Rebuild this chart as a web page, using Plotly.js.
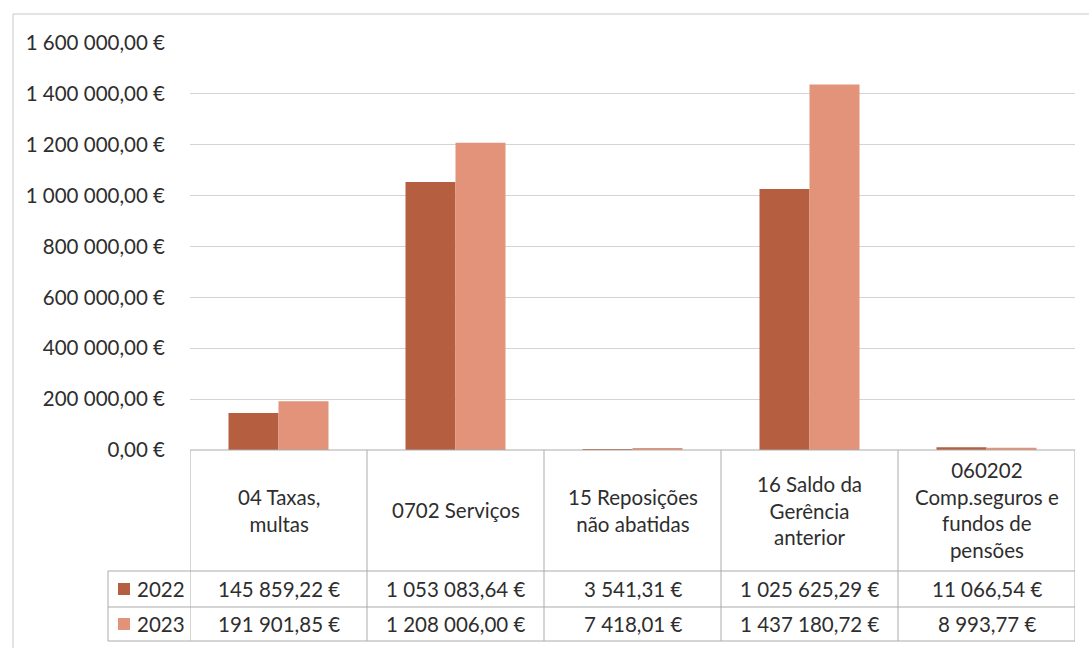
<!DOCTYPE html>
<html>
<head>
<meta charset="utf-8">
<script src="https://cdn.plot.ly/plotly-3.0.1.min.js"></script>
<style>
html,body{margin:0;padding:0;background:#fff;}
#chart{width:1089px;height:648px;}
</style>
</head>
<body>
<div id="chart"></div>
<script>
// ---- Data ----
const categories = ["04 Taxas, multas", "0702 Serviços", "15 Reposições não abatidas", "16 Saldo da Gerência anterior", "060202 Comp.seguros e fundos de pensões"];
const headerLabels = ["04 Taxas,<br>multas", "0702 Serviços", "15 Reposições<br>não abatidas", "16 Saldo da<br>Gerência<br>anterior", "060202<br>Comp.seguros e<br>fundos de<br>pensões"];
const seriesNames = ["2022", "2023"];
const values2022 = [145859.22, 1053083.64, 3541.31, 1025625.29, 11066.54];
const values2023 = [191901.85, 1208006.00, 7418.01, 1437180.72, 8993.77];
const yTickValues = [0, 200000, 400000, 600000, 800000, 1000000, 1200000, 1400000, 1600000];

// ---- Style ----
const colors = ["#B65F40", "#E29379"];
const FONT = "Lato, 'Open Sans', sans-serif";
const FS = 20.5;
const TXT = "#2E2E2E";
const LINE = "#ABABAB";

const W = 1089, H = 648;
const L = 190, R = 14, T = 43, B = 198;
const plotH = H - T - B, plotW = W - L - R;
const py = p => (H - B - p) / plotH;      // pixel y -> paper y
const px = p => (p - L) / plotW;          // pixel x -> paper x

function fmt(v) {
  const parts = v.toFixed(2).split(".");
  const intPart = parts[0].replace(/\B(?=(\d{3})+(?!\d))/g, " ");
  return intPart + "," + parts[1] + " €";
}

const traces = [values2022, values2023].map((vals, i) => ({
  type: "bar",
  name: seriesNames[i],
  x: categories,
  y: vals,
  marker: { color: colors[i], line: { width: 0 } },
  hoverinfo: "skip"
}));

// table geometry (pixels)
const headerBottom = 571, row1Bottom = 607, row2Bottom = 641;
const legendLeft = 108;

const shapes = [];
// outer chart-area border
shapes.push({ type: "rect", xref: "paper", yref: "paper",
  x0: px(13), x1: px(1100), y0: py(14), y1: py(670),
  line: { color: "#C8C8C8", width: 1 }, fillcolor: "rgba(0,0,0,0)", layer: "below" });
// vertical table lines on category boundaries
for (let i = 0; i <= categories.length; i++) {
  shapes.push({ type: "line", xref: "x", yref: "paper",
    x0: i - 0.5, x1: i - 0.5, y0: 0, y1: py(row2Bottom),
    line: { color: LINE, width: 1 } });
}
// horizontal table lines
[450, headerBottom, row1Bottom, row2Bottom].forEach(p => {
  shapes.push({ type: "line", xref: "x", yref: "paper",
    x0: -0.5, x1: categories.length - 0.5, y0: py(p), y1: py(p),
    line: { color: LINE, width: 1 } });
});
// legend key column
[headerBottom, row1Bottom, row2Bottom].forEach(p => {
  shapes.push({ type: "line", xref: "paper", yref: "paper",
    x0: px(legendLeft), x1: 0, y0: py(p), y1: py(p),
    line: { color: LINE, width: 1 } });
});
shapes.push({ type: "line", xref: "paper", yref: "paper",
  x0: px(legendLeft), x1: px(legendLeft), y0: py(headerBottom), y1: py(row2Bottom),
  line: { color: LINE, width: 1 } });
// legend squares
const rowCenters = [(headerBottom + row1Bottom) / 2, (row1Bottom + row2Bottom) / 2];
rowCenters.forEach((c, i) => {
  shapes.push({ type: "rect", xref: "paper", yref: "paper",
    x0: px(118), x1: px(130), y0: py(c - 6), y1: py(c + 6),
    fillcolor: colors[i], line: { width: 0 } });
});

const annotations = [];
categories.forEach((cat, i) => {
  annotations.push({ xref: "x", yref: "paper", x: cat, y: py(510),
    text: headerLabels[i], showarrow: false, xanchor: "center", yanchor: "middle",
    align: "center", font: { family: FONT, size: FS, color: TXT } });
  [values2022, values2023].forEach((vals, r) => {
    annotations.push({ xref: "x", yref: "paper", x: cat, y: py(rowCenters[r]),
      text: fmt(vals[i]), showarrow: false, xanchor: "center", yanchor: "middle",
      font: { family: FONT, size: FS, color: TXT } });
  });
});
seriesNames.forEach((n, r) => {
  annotations.push({ xref: "paper", yref: "paper", x: px(135), y: py(rowCenters[r]),
    text: n, showarrow: false, xanchor: "left", yanchor: "middle",
    font: { family: FONT, size: FS, color: TXT } });
});

const layout = {
  width: W, height: H,
  margin: { l: L, r: R, t: T, b: B, pad: 0 },
  paper_bgcolor: "#ffffff", plot_bgcolor: "#ffffff",
  barmode: "group", bargap: 0.435, bargroupgap: 0,
  showlegend: false,
  font: { family: FONT, size: FS, color: TXT },
  xaxis: { type: "category", range: [-0.5, categories.length - 0.5],
    showticklabels: false, showgrid: false, zeroline: false, showline: false, ticks: "" },
  yaxis: { range: [0, 1600000], tickmode: "array", tickvals: yTickValues,
    ticktext: yTickValues.map(fmt),
    showgrid: true, gridcolor: "#D4D4D4", gridwidth: 1, zeroline: false, showline: false,
    ticks: "", ticklabelstandoff: 24, tickfont: { family: FONT, size: FS, color: TXT } },
  shapes: shapes,
  annotations: annotations
};

Plotly.newPlot("chart", traces, layout, { displayModeBar: false, staticPlot: true });
</script>
</body>
</html>
